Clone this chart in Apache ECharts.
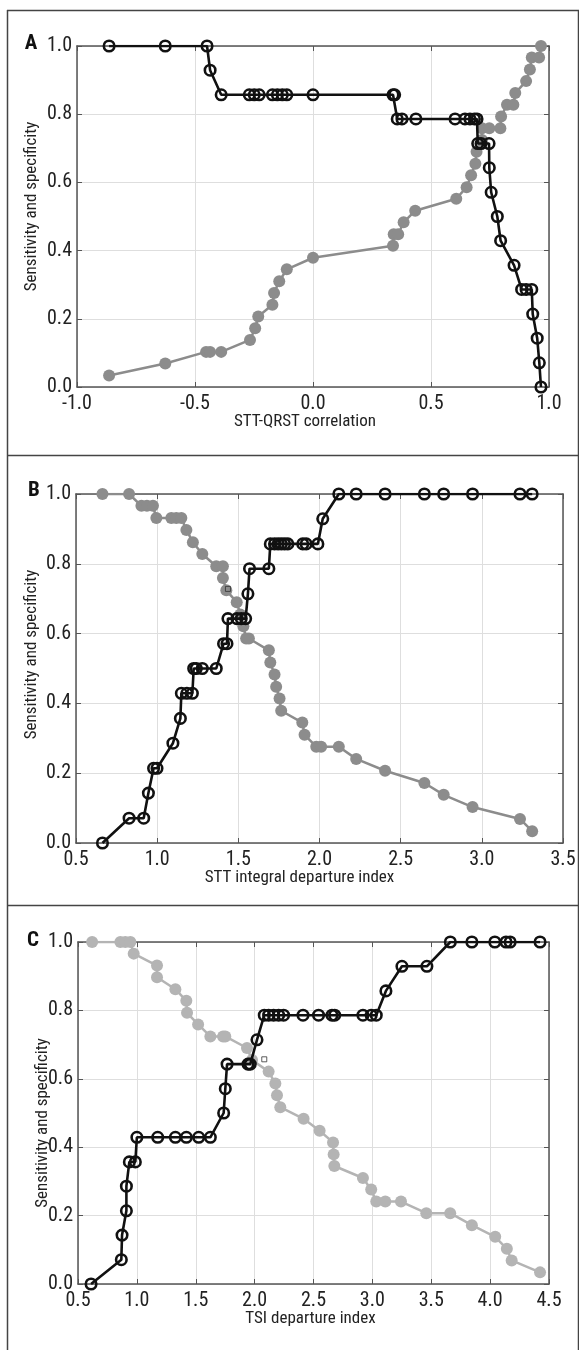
<!DOCTYPE html>
<html>
<head>
<meta charset="utf-8">
<script src="https://cdn.jsdelivr.net/npm/echarts@6/dist/echarts.min.js"></script>
<style>
  html, body { margin: 0; padding: 0; background: #fff; }
  #container { width: 579px; height: 1350px; }
</style>
</head>
<body>
<div id="container"></div>
<script>
// Panel A: STT-QRST correlation
var aBlackX = [-0.864, -0.626, -0.449, -0.436, -0.389, -0.270, -0.249, -0.228, -0.172, -0.151, -0.130, -0.111, 0.000, 0.339, 0.346, 0.357, 0.377, 0.436, 0.602, 0.644, 0.665, 0.684, 0.695, 0.698, 0.712, 0.746, 0.747, 0.755, 0.781, 0.795, 0.852, 0.884, 0.903, 0.927, 0.931, 0.950, 0.959, 0.966];
var aBlackY = [1.0, 1.0, 1.0, 0.929, 0.857, 0.857, 0.857, 0.857, 0.857, 0.857, 0.857, 0.857, 0.857, 0.857, 0.857, 0.786, 0.786, 0.786, 0.786, 0.786, 0.786, 0.786, 0.786, 0.714, 0.714, 0.714, 0.643, 0.571, 0.5, 0.429, 0.357, 0.286, 0.286, 0.286, 0.214, 0.143, 0.071, 0.0];
var aGrayX = [-0.864, -0.626, -0.453, -0.436, -0.389, -0.267, -0.245, -0.232, -0.172, -0.165, -0.143, -0.111, 0.000, 0.339, 0.342, 0.361, 0.384, 0.433, 0.607, 0.651, 0.670, 0.688, 0.693, 0.716, 0.716, 0.747, 0.794, 0.797, 0.822, 0.849, 0.857, 0.903, 0.919, 0.927, 0.958, 0.966];
var aGrayY = [0.034, 0.069, 0.103, 0.103, 0.103, 0.138, 0.172, 0.207, 0.241, 0.276, 0.310, 0.345, 0.379, 0.414, 0.448, 0.448, 0.483, 0.517, 0.552, 0.586, 0.621, 0.655, 0.690, 0.724, 0.759, 0.759, 0.759, 0.793, 0.828, 0.828, 0.862, 0.897, 0.931, 0.966, 0.966, 1.0];

// Panel B: STT integral departure index
var bBlackX = [0.663, 0.827, 0.917, 0.946, 0.978, 0.999, 1.097, 1.143, 1.149, 1.183, 1.217, 1.225, 1.241, 1.278, 1.364, 1.409, 1.430, 1.436, 1.491, 1.518, 1.545, 1.559, 1.569, 1.688, 1.697, 1.723, 1.745, 1.765, 1.785, 1.805, 1.897, 1.918, 1.990, 2.020, 2.119, 2.226, 2.404, 2.646, 2.765, 2.943, 3.235, 3.310];
var bBlackY = [0.0, 0.071, 0.071, 0.143, 0.214, 0.214, 0.286, 0.357, 0.429, 0.429, 0.429, 0.5, 0.5, 0.5, 0.5, 0.571, 0.571, 0.643, 0.643, 0.643, 0.643, 0.714, 0.786, 0.786, 0.857, 0.857, 0.857, 0.857, 0.857, 0.857, 0.857, 0.857, 0.857, 0.929, 1.0, 1.0, 1.0, 1.0, 1.0, 1.0, 1.0, 1.0];
var bGrayX = [0.663, 0.827, 0.903, 0.937, 0.974, 0.995, 1.087, 1.118, 1.149, 1.180, 1.220, 1.278, 1.364, 1.405, 1.405, 1.426, 1.490, 1.512, 1.531, 1.548, 1.565, 1.688, 1.697, 1.723, 1.733, 1.754, 1.764, 1.894, 1.908, 1.980, 2.010, 2.119, 2.226, 2.404, 2.646, 2.765, 2.943, 3.235, 3.310];
var bGrayY = [1.0, 1.0, 0.966, 0.966, 0.966, 0.931, 0.931, 0.931, 0.931, 0.897, 0.862, 0.828, 0.793, 0.793, 0.759, 0.724, 0.690, 0.655, 0.621, 0.586, 0.586, 0.552, 0.517, 0.483, 0.448, 0.414, 0.379, 0.345, 0.310, 0.276, 0.276, 0.276, 0.241, 0.207, 0.172, 0.138, 0.103, 0.069, 0.034];
var bCut = [[1.436, 0.728]];

// Panel C: TSI departure index
var cBlackX = [0.611, 0.868, 0.874, 0.911, 0.911, 0.936, 0.987, 1.000, 1.177, 1.327, 1.420, 1.525, 1.624, 1.737, 1.751, 1.766, 1.944, 1.963, 2.020, 2.082, 2.119, 2.161, 2.204, 2.246, 2.411, 2.543, 2.657, 2.680, 2.920, 2.990, 3.033, 3.115, 3.251, 3.463, 3.662, 3.845, 4.040, 4.135, 4.170, 4.424];
var cBlackY = [0.0, 0.071, 0.143, 0.214, 0.286, 0.357, 0.357, 0.429, 0.429, 0.429, 0.429, 0.429, 0.429, 0.5, 0.571, 0.643, 0.643, 0.643, 0.714, 0.786, 0.786, 0.786, 0.786, 0.786, 0.786, 0.786, 0.786, 0.786, 0.786, 0.786, 0.786, 0.857, 0.929, 0.929, 1.0, 1.0, 1.0, 1.0, 1.0, 1.0];
var cGrayX = [0.620, 0.860, 0.902, 0.945, 0.973, 1.171, 1.171, 1.327, 1.420, 1.426, 1.520, 1.624, 1.732, 1.751, 1.935, 1.978, 2.119, 2.176, 2.190, 2.218, 2.416, 2.552, 2.666, 2.671, 2.677, 2.920, 2.990, 3.033, 3.110, 3.243, 3.458, 3.661, 3.845, 4.043, 4.142, 4.183, 4.424];
var cGrayY = [1.0, 1.0, 1.0, 1.0, 0.966, 0.931, 0.897, 0.862, 0.828, 0.793, 0.759, 0.724, 0.724, 0.724, 0.690, 0.655, 0.621, 0.586, 0.552, 0.517, 0.483, 0.448, 0.414, 0.379, 0.345, 0.310, 0.276, 0.241, 0.241, 0.241, 0.207, 0.207, 0.172, 0.138, 0.103, 0.069, 0.034];
var cCut = [[2.082, 0.657]];

var yTitle = 'Sensitivity and specificity';
var xTitles = ['STT-QRST correlation', 'STT integral departure index', 'TSI departure index'];
var panelLetters = ['A', 'B', 'C'];

var FONT = '"Liberation Sans Narrow", "Noto Sans Condensed", "Roboto Condensed", "DejaVu Sans Condensed", sans-serif';
var AXIS_COLOR = '#555';

function pairs(xs, ys) {
    return xs.map(function (x, i) { return [x, ys[i]]; });
}

var dom = document.getElementById('container');
var myChart = echarts.init(dom, null, { renderer: 'canvas' });

var grids = [
    { left: 77, top: 46, width: 472, height: 341 },
    { left: 76, top: 494, width: 487, height: 349 },
    { left: 78, top: 942, width: 471, height: 342 }
];
var xRanges = [[-1, 1], [0.5, 3.5], [0.5, 4.5]];
var xNamePad = [[0, 16, 0, 0], [0, 40, 0, 0], [0, 6, 0, 0]];
var yNameGap = [37, 36, 27];
// shifts the rotated y title along the axis (left pad = up, right pad = down)
var yNamePad = [[0, 0, 0, 20], [0, 0, 0, 28], [0, 20, 0, 0]];

var xAxes = [];
var yAxes = [];
grids.forEach(function (g, i) {
    // bottom axis with labels
    xAxes.push({
        type: 'value', gridIndex: i, position: 'bottom',
        min: xRanges[i][0], max: xRanges[i][1], interval: 0.5,
        name: xTitles[i], nameLocation: 'middle', nameGap: 26, nameMoveOverlap: false,
        nameTextStyle: { fontFamily: FONT, fontSize: 17, color: '#222', padding: xNamePad[i] },
        axisLine: { show: true, onZero: false, lineStyle: { color: AXIS_COLOR, width: 1.5 } },
        axisTick: { show: true, inside: true, length: 5, lineStyle: { color: AXIS_COLOR } },
        axisLabel: {
            fontFamily: FONT, fontSize: 20, color: '#222', margin: 7,
            formatter: function (v) { return v.toFixed(1); }
        },
        splitLine: { show: true, lineStyle: { color: '#dedede', width: 1 } }
    });
    // top axis, box only
    xAxes.push({
        type: 'value', gridIndex: i, position: 'top',
        min: xRanges[i][0], max: xRanges[i][1], interval: 0.5,
        axisLine: { show: true, onZero: false, lineStyle: { color: AXIS_COLOR, width: 1.5 } },
        axisTick: { show: true, inside: true, length: 5, lineStyle: { color: AXIS_COLOR } },
        axisLabel: { show: false },
        splitLine: { show: false }
    });
    yAxes.push({
        type: 'value', gridIndex: i, position: 'left',
        min: 0, max: 1, interval: 0.2,
        name: yTitle, nameLocation: 'middle', nameGap: yNameGap[i], nameMoveOverlap: false,
        nameTextStyle: { fontFamily: FONT, fontSize: 17, color: '#222', padding: yNamePad[i] },
        axisLine: { show: true, onZero: false, lineStyle: { color: AXIS_COLOR, width: 1.5 } },
        axisTick: { show: true, inside: true, length: 5, lineStyle: { color: AXIS_COLOR } },
        axisLabel: {
            fontFamily: FONT, fontSize: 20, color: '#222', margin: 5,
            formatter: function (v) { return v.toFixed(1); }
        },
        splitLine: { show: true, lineStyle: { color: '#dedede', width: 1 } }
    });
    yAxes.push({
        type: 'value', gridIndex: i, position: 'right',
        min: 0, max: 1, interval: 0.2,
        axisLine: { show: true, onZero: false, lineStyle: { color: AXIS_COLOR, width: 1.5 } },
        axisTick: { show: true, inside: true, length: 5, lineStyle: { color: AXIS_COLOR } },
        axisLabel: { show: false },
        splitLine: { show: false }
    });
});

function grayLine(idx, data, color) {
    return {
        type: 'line', xAxisIndex: idx * 2, yAxisIndex: idx * 2, data: data,
        symbol: 'circle', symbolSize: 12, showAllSymbol: true,
        itemStyle: { color: color },
        lineStyle: { color: color, width: 2.5 },
        z: 2
    };
}
function blackLine(idx, data) {
    return {
        type: 'line', xAxisIndex: idx * 2, yAxisIndex: idx * 2, data: data,
        symbol: 'circle', symbolSize: 10.5, showAllSymbol: true,
        itemStyle: { color: 'rgba(255,255,255,0)', borderColor: '#111', borderWidth: 2.6 },
        lineStyle: { color: '#111', width: 2.6 },
        z: 3
    };
}
function cutMark(idx, data) {
    return {
        type: 'scatter', xAxisIndex: idx * 2, yAxisIndex: idx * 2, data: data,
        symbol: 'rect', symbolSize: 5,
        itemStyle: { color: 'rgba(255,255,255,0)', borderColor: '#333', borderWidth: 1 },
        z: 4
    };
}

var series = [
    grayLine(0, pairs(aGrayX, aGrayY), '#8c8c8c'),
    blackLine(0, pairs(aBlackX, aBlackY)),
    grayLine(1, pairs(bGrayX, bGrayY), '#8c8c8c'),
    blackLine(1, pairs(bBlackX, bBlackY)),
    cutMark(1, bCut),
    grayLine(2, pairs(cGrayX, cGrayY), '#b4b4b4'),
    blackLine(2, pairs(cBlackX, cBlackY)),
    cutMark(2, cCut)
];

// panel frames and letters
var frame = { stroke: '#444', lineWidth: 1.5 };
var graphics = [
    { type: 'line', shape: { x1: 7, y1: 10.5, x2: 579, y2: 10.5 }, style: frame },
    { type: 'line', shape: { x1: 7, y1: 455.5, x2: 579, y2: 455.5 }, style: frame },
    { type: 'line', shape: { x1: 7, y1: 905.5, x2: 579, y2: 905.5 }, style: frame },
    { type: 'line', shape: { x1: 7.5, y1: 10, x2: 7.5, y2: 1350 }, style: frame },
    { type: 'line', shape: { x1: 578.5, y1: 10, x2: 578.5, y2: 1350 }, style: frame }
];
var letterPos = [[31, 44], [34, 491], [33, 941]];
panelLetters.forEach(function (t, i) {
    graphics.push({
        type: 'text', x: letterPos[i][0], y: letterPos[i][1],
        style: {
            text: t, fontFamily: FONT, fontSize: 21, fontWeight: 'bold', fill: '#111',
            align: 'center', verticalAlign: 'middle'
        }
    });
});

myChart.setOption({
    animation: false,
    backgroundColor: '#fff',
    grid: grids,
    xAxis: xAxes,
    yAxis: yAxes,
    series: series,
    graphic: graphics
});

window.addEventListener('resize', function () {
    myChart.resize();
});
</script>
</body>
</html>
